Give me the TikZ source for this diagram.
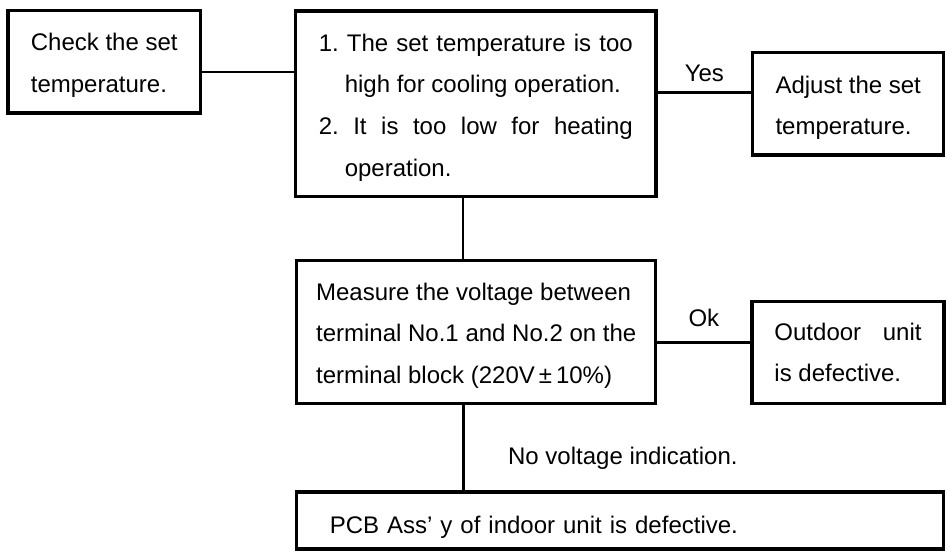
\documentclass[tikz,border=0pt]{standalone}
\usepackage{fontspec}
\setmainfont{Liberation Sans}
\usetikzlibrary{positioning,calc}
\tolerance=9999
\hyphenpenalty=10000
\frenchspacing
\newcommand{\bxstr}[1]{\rule{0pt}{#1}}

\begin{document}
\begin{tikzpicture}[x=1pt,y=-1pt,
   font=\fontsize{24}{41.7}\selectfont,
   st/.style={draw,line width=3.4pt,inner sep=0pt,align=left},
   ln/.style={line width=2.8pt},
   lbl/.style={inner sep=0pt}]
  \useasboundingbox (0,0) rectangle (950,552);
  \node[st,minimum width=192.5pt,minimum height=102.5pt] (chk) at (104.25,61.75)
       {\bxstr{25pt}Check the set\\temperature.};
  \node[st,minimum width=360.5pt,minimum height=185.7pt,text width=314pt,align=justify]
       (cond) at (475.75,103.85)
       {{\hangindent=26pt\hangafter=1 \bxstr{24.5pt}1. The set temperature is too high for cooling operation.\par}
        {\hangindent=26pt\hangafter=1 2. It is too low for heating operation.\par}};
  \node[st,minimum width=191pt,minimum height=102.3pt] (adj) at (848.2,103.85)
       {\bxstr{25.5pt}Adjust the set\\temperature.};
  \node[st,minimum width=359pt,minimum height=143pt] (meas) at (476.25,331.8)
       {\bxstr{25pt}Measure the voltage between\\terminal No.1 and No.2 on the\\terminal block (220V\hspace{4pt}±\hspace{4pt}10\%)};
  \node[st,minimum width=192pt,minimum height=101.7pt] (out) at (848,352.5)
       {Outdoor\hspace{15pt} unit\\is defective.};
  \node[st,minimum width=647pt,minimum height=57pt,text width=581pt,inner xsep=33pt]
       (pcb) at (620.25,520.5) {\bxstr{30.5pt}PCB Ass’ y of indoor unit is defective.};
  % connectors
  \draw[ln] ([yshift=-10.25pt]chk.east) -- ([yshift=-10.25pt]chk.east -| cond.west);
  \draw[ln] ([yshift=11.5pt]cond.east) -- ([yshift=11.5pt]cond.east -| adj.west)
       node[midway,above=9.5pt,lbl]{Yes};
  \draw[ln] ([xshift=-12.75pt]cond.south) -- ([xshift=-12.75pt]cond.south |- meas.north);
  \draw[ln] ([yshift=-10.7pt]meas.east) -- ([yshift=-10.7pt]meas.east -| out.west)
       node[midway,above=14.5pt,lbl]{Ok};
  \draw[ln] ([xshift=-12.5pt]meas.south) -- ([xshift=-12.5pt]meas.south |- pcb.north)
       node[pos=0.63,right=43pt,lbl]{No voltage indication.};
\end{tikzpicture}
\end{document}
